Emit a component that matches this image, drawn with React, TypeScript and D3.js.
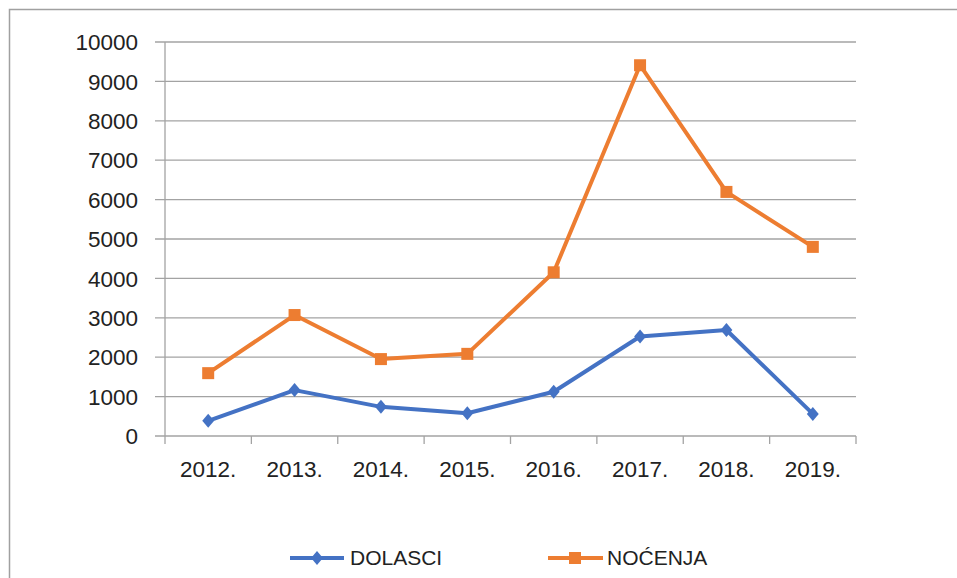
import React from 'react'
import * as d3 from 'd3'

const years = ['2012.', '2013.', '2014.', '2015.', '2016.', '2017.', '2018.', '2019.']
const dolasci = [385, 1165, 740, 578, 1122, 2525, 2690, 560]
const nocenja = [1595, 3070, 1952, 2085, 4155, 9410, 6195, 4800]
const yTicks = [0, 1000, 2000, 3000, 4000, 5000, 6000, 7000, 8000, 9000, 10000]

const W = 957
const H = 578
const blue = '#4472C4'
const orange = '#ED7D31'
const grid = '#a3a3a3'
const font = '"Liberation Sans", Arial, sans-serif'

const App = () => {
  const x = d3.scaleBand<string>().domain(years).range([165, 856])
  const y = d3.scaleLinear().domain([0, 10000]).range([436, 42])
  const cx = (i: number) => x(years[i])! + x.bandwidth() / 2

  const line = d3.line<number>().x((_, i) => cx(i)).y(d => y(d))
  const diamond = (px: number, py: number, r: number) =>
    `M${px},${py - r}L${px + r * 0.85},${py}L${px},${py + r}L${px - r * 0.85},${py}Z`

  return (
    <svg width={W} height={H} style={{ position: 'absolute', left: 0, top: 0 }} fontFamily={font}>
      <rect x={0} y={0} width={W} height={H} fill="#fff" />
      {/* outer border, runs off the right and bottom */}
      <path d={`M9.5,${H + 2}V9.5H${W + 2}`} fill="none" stroke="#a0a0a0" strokeWidth={1.5} />

      {/* gridlines with tick stubs */}
      {yTicks.map(t => (
        <g key={t}>
          <line x1={155} x2={856} y1={y(t)} y2={y(t)} stroke={grid} strokeWidth={1.3} />
          <text x={138} y={y(t)} dy="0.36em" textAnchor="end" fontSize={22.5} fill="#222">{t}</text>
        </g>
      ))}
      <line x1={165} x2={165} y1={y(10000)} y2={444} stroke={grid} strokeWidth={1.3} />
      {years.map((yr, i) => (
        <g key={yr}>
          <line x1={x(yr)! + x.bandwidth()} x2={x(yr)! + x.bandwidth()} y1={436} y2={444} stroke={grid} strokeWidth={1.3} />
          <text x={cx(i)} y={477} textAnchor="middle" fontSize={22.5} fill="#222">{yr}</text>
        </g>
      ))}

      <path d={line(nocenja)!} fill="none" stroke={orange} strokeWidth={4} strokeLinejoin="round" />
      {nocenja.map((v, i) => (
        <rect key={i} x={cx(i) - 6} y={y(v) - 6} width={12} height={12} fill={orange} />
      ))}
      <path d={line(dolasci)!} fill="none" stroke={blue} strokeWidth={4} strokeLinejoin="round" />
      {dolasci.map((v, i) => (
        <path key={i} d={diamond(cx(i), y(v), 7)} fill={blue} />
      ))}

      {/* legend */}
      <line x1={290} x2={344} y1={558} y2={558} stroke={blue} strokeWidth={4} />
      <path d={diamond(317, 558, 7)} fill={blue} />
      <text x={350} y={565} fontSize={21} fill="#222">DOLASCI</text>
      <line x1={548} x2={603} y1={558} y2={558} stroke={orange} strokeWidth={4} />
      <rect x={569} y={552} width={12} height={12} fill={orange} />
      <text x={607} y={565} fontSize={21} fill="#222">NOĆENJA</text>
    </svg>
  )
}

export default App
